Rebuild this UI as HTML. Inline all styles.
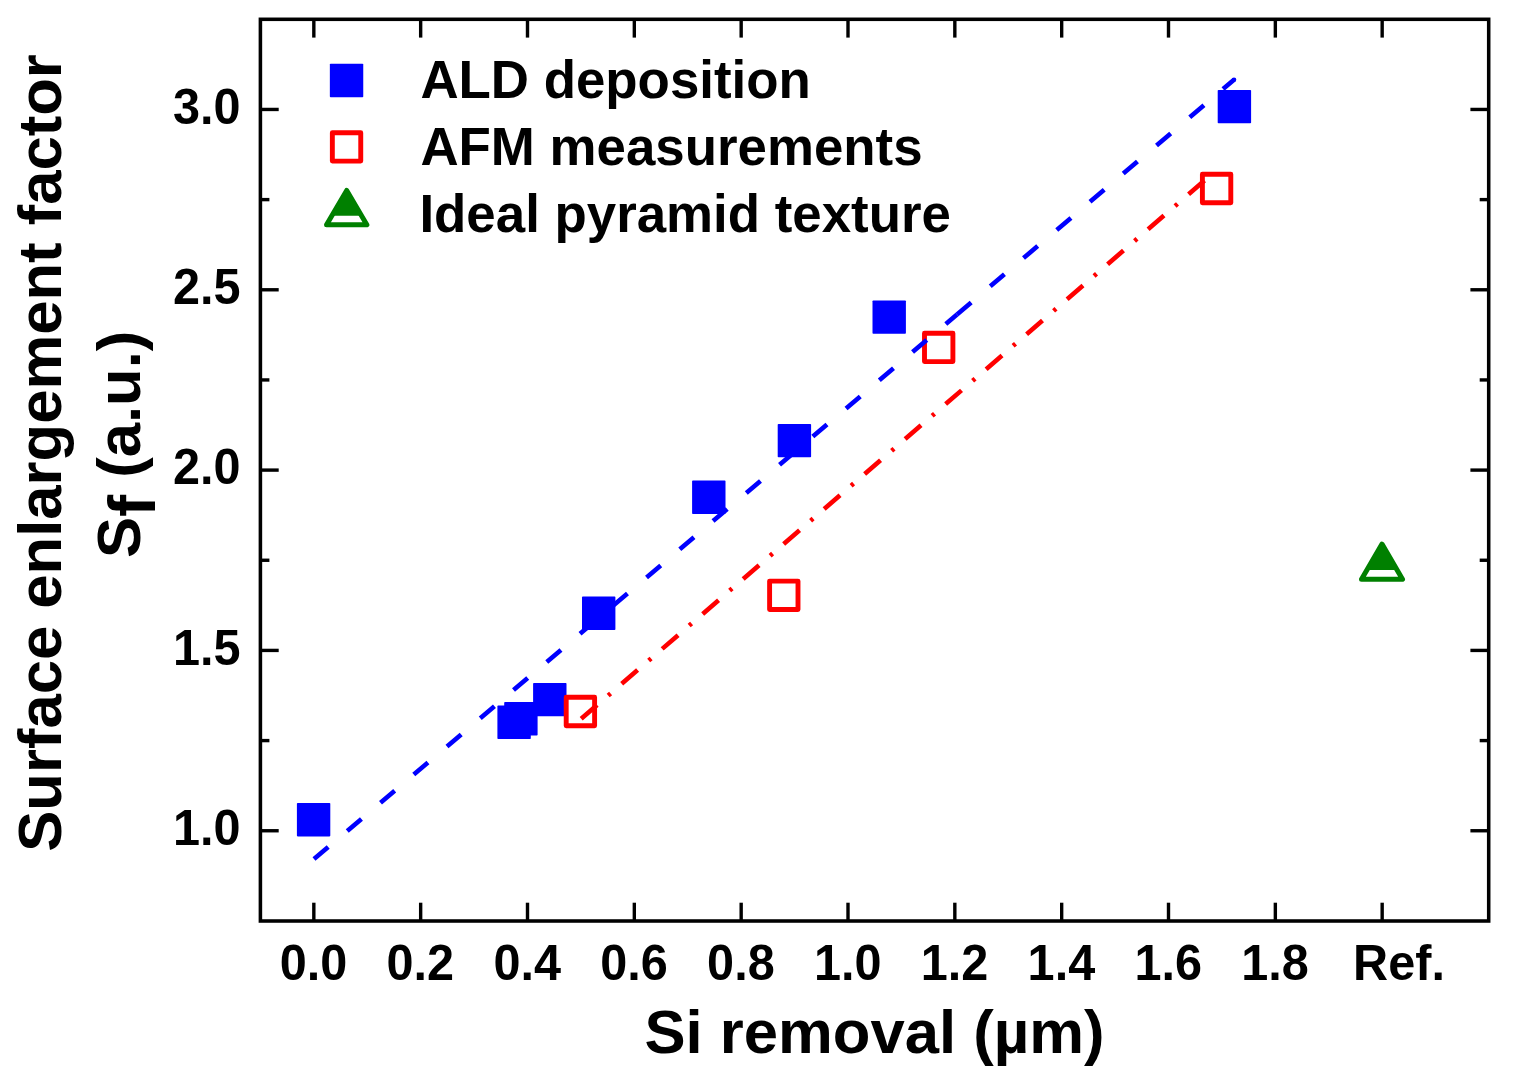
<!DOCTYPE html>
<html lang="en"><head><meta charset="utf-8"><title>Surface enlargement factor vs Si removal</title>
<style>
html,body{margin:0;padding:0;background:#fff;}
body{width:1519px;height:1078px;overflow:hidden;}
svg{display:block;}
text{font-family:"Liberation Sans",sans-serif;font-weight:bold;fill:#000;}
</style></head><body>
<svg width="1519" height="1078" viewBox="0 0 1519 1078">
<rect x="0" y="0" width="1519" height="1078" fill="#ffffff"/>
<g stroke="#000" stroke-width="3.4" fill="none" stroke-linecap="butt">
<line x1="313.83" y1="921.00" x2="313.83" y2="902.70"/>
<line x1="313.83" y1="19.30" x2="313.83" y2="37.60"/>
<line x1="420.66" y1="921.00" x2="420.66" y2="902.70"/>
<line x1="420.66" y1="19.30" x2="420.66" y2="37.60"/>
<line x1="527.50" y1="921.00" x2="527.50" y2="902.70"/>
<line x1="527.50" y1="19.30" x2="527.50" y2="37.60"/>
<line x1="634.33" y1="921.00" x2="634.33" y2="902.70"/>
<line x1="634.33" y1="19.30" x2="634.33" y2="37.60"/>
<line x1="741.17" y1="921.00" x2="741.17" y2="902.70"/>
<line x1="741.17" y1="19.30" x2="741.17" y2="37.60"/>
<line x1="848.00" y1="921.00" x2="848.00" y2="902.70"/>
<line x1="848.00" y1="19.30" x2="848.00" y2="37.60"/>
<line x1="954.83" y1="921.00" x2="954.83" y2="902.70"/>
<line x1="954.83" y1="19.30" x2="954.83" y2="37.60"/>
<line x1="1061.67" y1="921.00" x2="1061.67" y2="902.70"/>
<line x1="1061.67" y1="19.30" x2="1061.67" y2="37.60"/>
<line x1="1168.50" y1="921.00" x2="1168.50" y2="902.70"/>
<line x1="1168.50" y1="19.30" x2="1168.50" y2="37.60"/>
<line x1="1275.34" y1="921.00" x2="1275.34" y2="902.70"/>
<line x1="1275.34" y1="19.30" x2="1275.34" y2="37.60"/>
<line x1="1382.17" y1="921.00" x2="1382.17" y2="902.70"/>
<line x1="1382.17" y1="19.30" x2="1382.17" y2="37.60"/>
<line x1="260.40" y1="830.75" x2="278.70" y2="830.75"/>
<line x1="1488.70" y1="830.75" x2="1470.40" y2="830.75"/>
<line x1="260.40" y1="740.59" x2="269.40" y2="740.59"/>
<line x1="1488.70" y1="740.59" x2="1479.70" y2="740.59"/>
<line x1="260.40" y1="650.42" x2="278.70" y2="650.42"/>
<line x1="1488.70" y1="650.42" x2="1470.40" y2="650.42"/>
<line x1="260.40" y1="560.26" x2="269.40" y2="560.26"/>
<line x1="1488.70" y1="560.26" x2="1479.70" y2="560.26"/>
<line x1="260.40" y1="470.10" x2="278.70" y2="470.10"/>
<line x1="1488.70" y1="470.10" x2="1470.40" y2="470.10"/>
<line x1="260.40" y1="379.94" x2="269.40" y2="379.94"/>
<line x1="1488.70" y1="379.94" x2="1479.70" y2="379.94"/>
<line x1="260.40" y1="289.78" x2="278.70" y2="289.78"/>
<line x1="1488.70" y1="289.78" x2="1470.40" y2="289.78"/>
<line x1="260.40" y1="199.61" x2="269.40" y2="199.61"/>
<line x1="1488.70" y1="199.61" x2="1479.70" y2="199.61"/>
<line x1="260.40" y1="109.45" x2="278.70" y2="109.45"/>
<line x1="1488.70" y1="109.45" x2="1470.40" y2="109.45"/>
</g>
<g fill="#0000ff">
<rect x="296.90" y="803.00" width="33.40" height="33.40" rx="0.8"/>
<rect x="497.40" y="705.60" width="33.40" height="33.40" rx="0.8"/>
<rect x="504.20" y="702.10" width="33.40" height="33.40" rx="0.8"/>
<rect x="533.10" y="682.90" width="33.40" height="33.40" rx="0.8"/>
<rect x="582.00" y="596.60" width="33.40" height="33.40" rx="0.8"/>
<rect x="692.10" y="480.60" width="33.40" height="33.40" rx="0.8"/>
<rect x="777.70" y="423.90" width="33.40" height="33.40" rx="0.8"/>
<rect x="872.50" y="300.40" width="33.40" height="33.40" rx="0.8"/>
<rect x="1217.70" y="89.90" width="33.40" height="33.40" rx="0.8"/>
</g>
<g fill="none" stroke="#ff0000" stroke-width="4.9" stroke-linejoin="round">
<rect x="566.20" y="697.30" width="28.40" height="28.40"/>
<rect x="769.60" y="581.10" width="28.40" height="28.40"/>
<rect x="924.50" y="333.20" width="28.40" height="28.40"/>
<rect x="1202.40" y="174.30" width="28.40" height="28.40"/>
</g>
<path d="M1382.00 544.13 L1397.06 570.00 L1366.94 570.00 Z" fill="#008000" stroke="none"/>
<path d="M1382.00 544.13 L1402.50 579.33 L1361.50 579.33 Z" fill="none" stroke="#008000" stroke-width="5.0" stroke-linejoin="round"/>
<path d="M581.20 718.80 L1207.00 178.40" fill="none" stroke="#ff0000" stroke-width="4.6" stroke-dasharray="21 14.65 3.2 14.65"/>
<path d="M314.00 859.10 L957.00 314.44" fill="none" stroke="#0000ff" stroke-width="4.6" stroke-dasharray="18.6 24.98"/>
<path d="M957.00 314.44 L1234.00 79.80" fill="none" stroke="#0000ff" stroke-width="4.6" stroke-dasharray="18.6 24.98"/>
<circle cx="1234.00" cy="79.80" r="2.30" fill="#0000ff"/>
<rect x="260.40" y="19.30" width="1228.30" height="901.70" fill="none" stroke="#000" stroke-width="3.55"/>
<g font-size="48.6" text-anchor="middle">
<text transform="translate(313.53 979.8) scale(1 1.026)">0.0</text>
<text transform="translate(420.36 979.8) scale(1 1.026)">0.2</text>
<text transform="translate(527.20 979.8) scale(1 1.026)">0.4</text>
<text transform="translate(634.03 979.8) scale(1 1.026)">0.6</text>
<text transform="translate(740.87 979.8) scale(1 1.026)">0.8</text>
<text transform="translate(847.70 979.8) scale(1 1.026)">1.0</text>
<text transform="translate(954.53 979.8) scale(1 1.026)">1.2</text>
<text transform="translate(1061.37 979.8) scale(1 1.026)">1.4</text>
<text transform="translate(1168.20 979.8) scale(1 1.026)">1.6</text>
<text transform="translate(1275.04 979.8) scale(1 1.026)">1.8</text>
<text transform="translate(1399.00 979.8) scale(1 1.026)">Ref.</text>
</g>
<g font-size="48.6" text-anchor="end">
<text transform="translate(240.5 845.05) scale(1 1.026)">1.0</text>
<text transform="translate(240.5 664.72) scale(1 1.026)">1.5</text>
<text transform="translate(240.5 484.40) scale(1 1.026)">2.0</text>
<text transform="translate(240.5 304.08) scale(1 1.026)">2.5</text>
<text transform="translate(240.5 123.75) scale(1 1.026)">3.0</text>
</g>
<text x="874.5" y="1053.0" font-size="61.6" text-anchor="middle">Si removal (µm)</text>
<text transform="translate(60.8 453) rotate(-90)" font-size="61.6" text-anchor="middle">Surface enlargement factor</text>
<text transform="translate(140 444.3) rotate(-90)" font-size="61.6" text-anchor="middle">S<tspan dy="14.5" font-size="66">f</tspan><tspan dy="-14.5"> (a.u.)</tspan></text>
<rect x="329.85" y="63.80" width="33.40" height="33.40" rx="0.8" fill="#0000ff"/>
<rect x="332.35" y="132.70" width="28.40" height="28.40" fill="none" stroke="#ff0000" stroke-width="4.9" stroke-linejoin="round"/>
<path d="M346.70 190.43 L361.54 215.70 L331.86 215.70 Z" fill="#008000" stroke="none"/>
<path d="M346.70 190.43 L366.85 224.73 L326.55 224.73 Z" fill="none" stroke="#008000" stroke-width="5.0" stroke-linejoin="round"/>
<g font-size="52.85">
<text x="420.4" y="98.2">ALD deposition</text>
<text x="420.4" y="164.8">AFM measurements</text>
<text x="419.4" y="231.5">Ideal pyramid texture</text>
</g>
</svg>
</body></html>
